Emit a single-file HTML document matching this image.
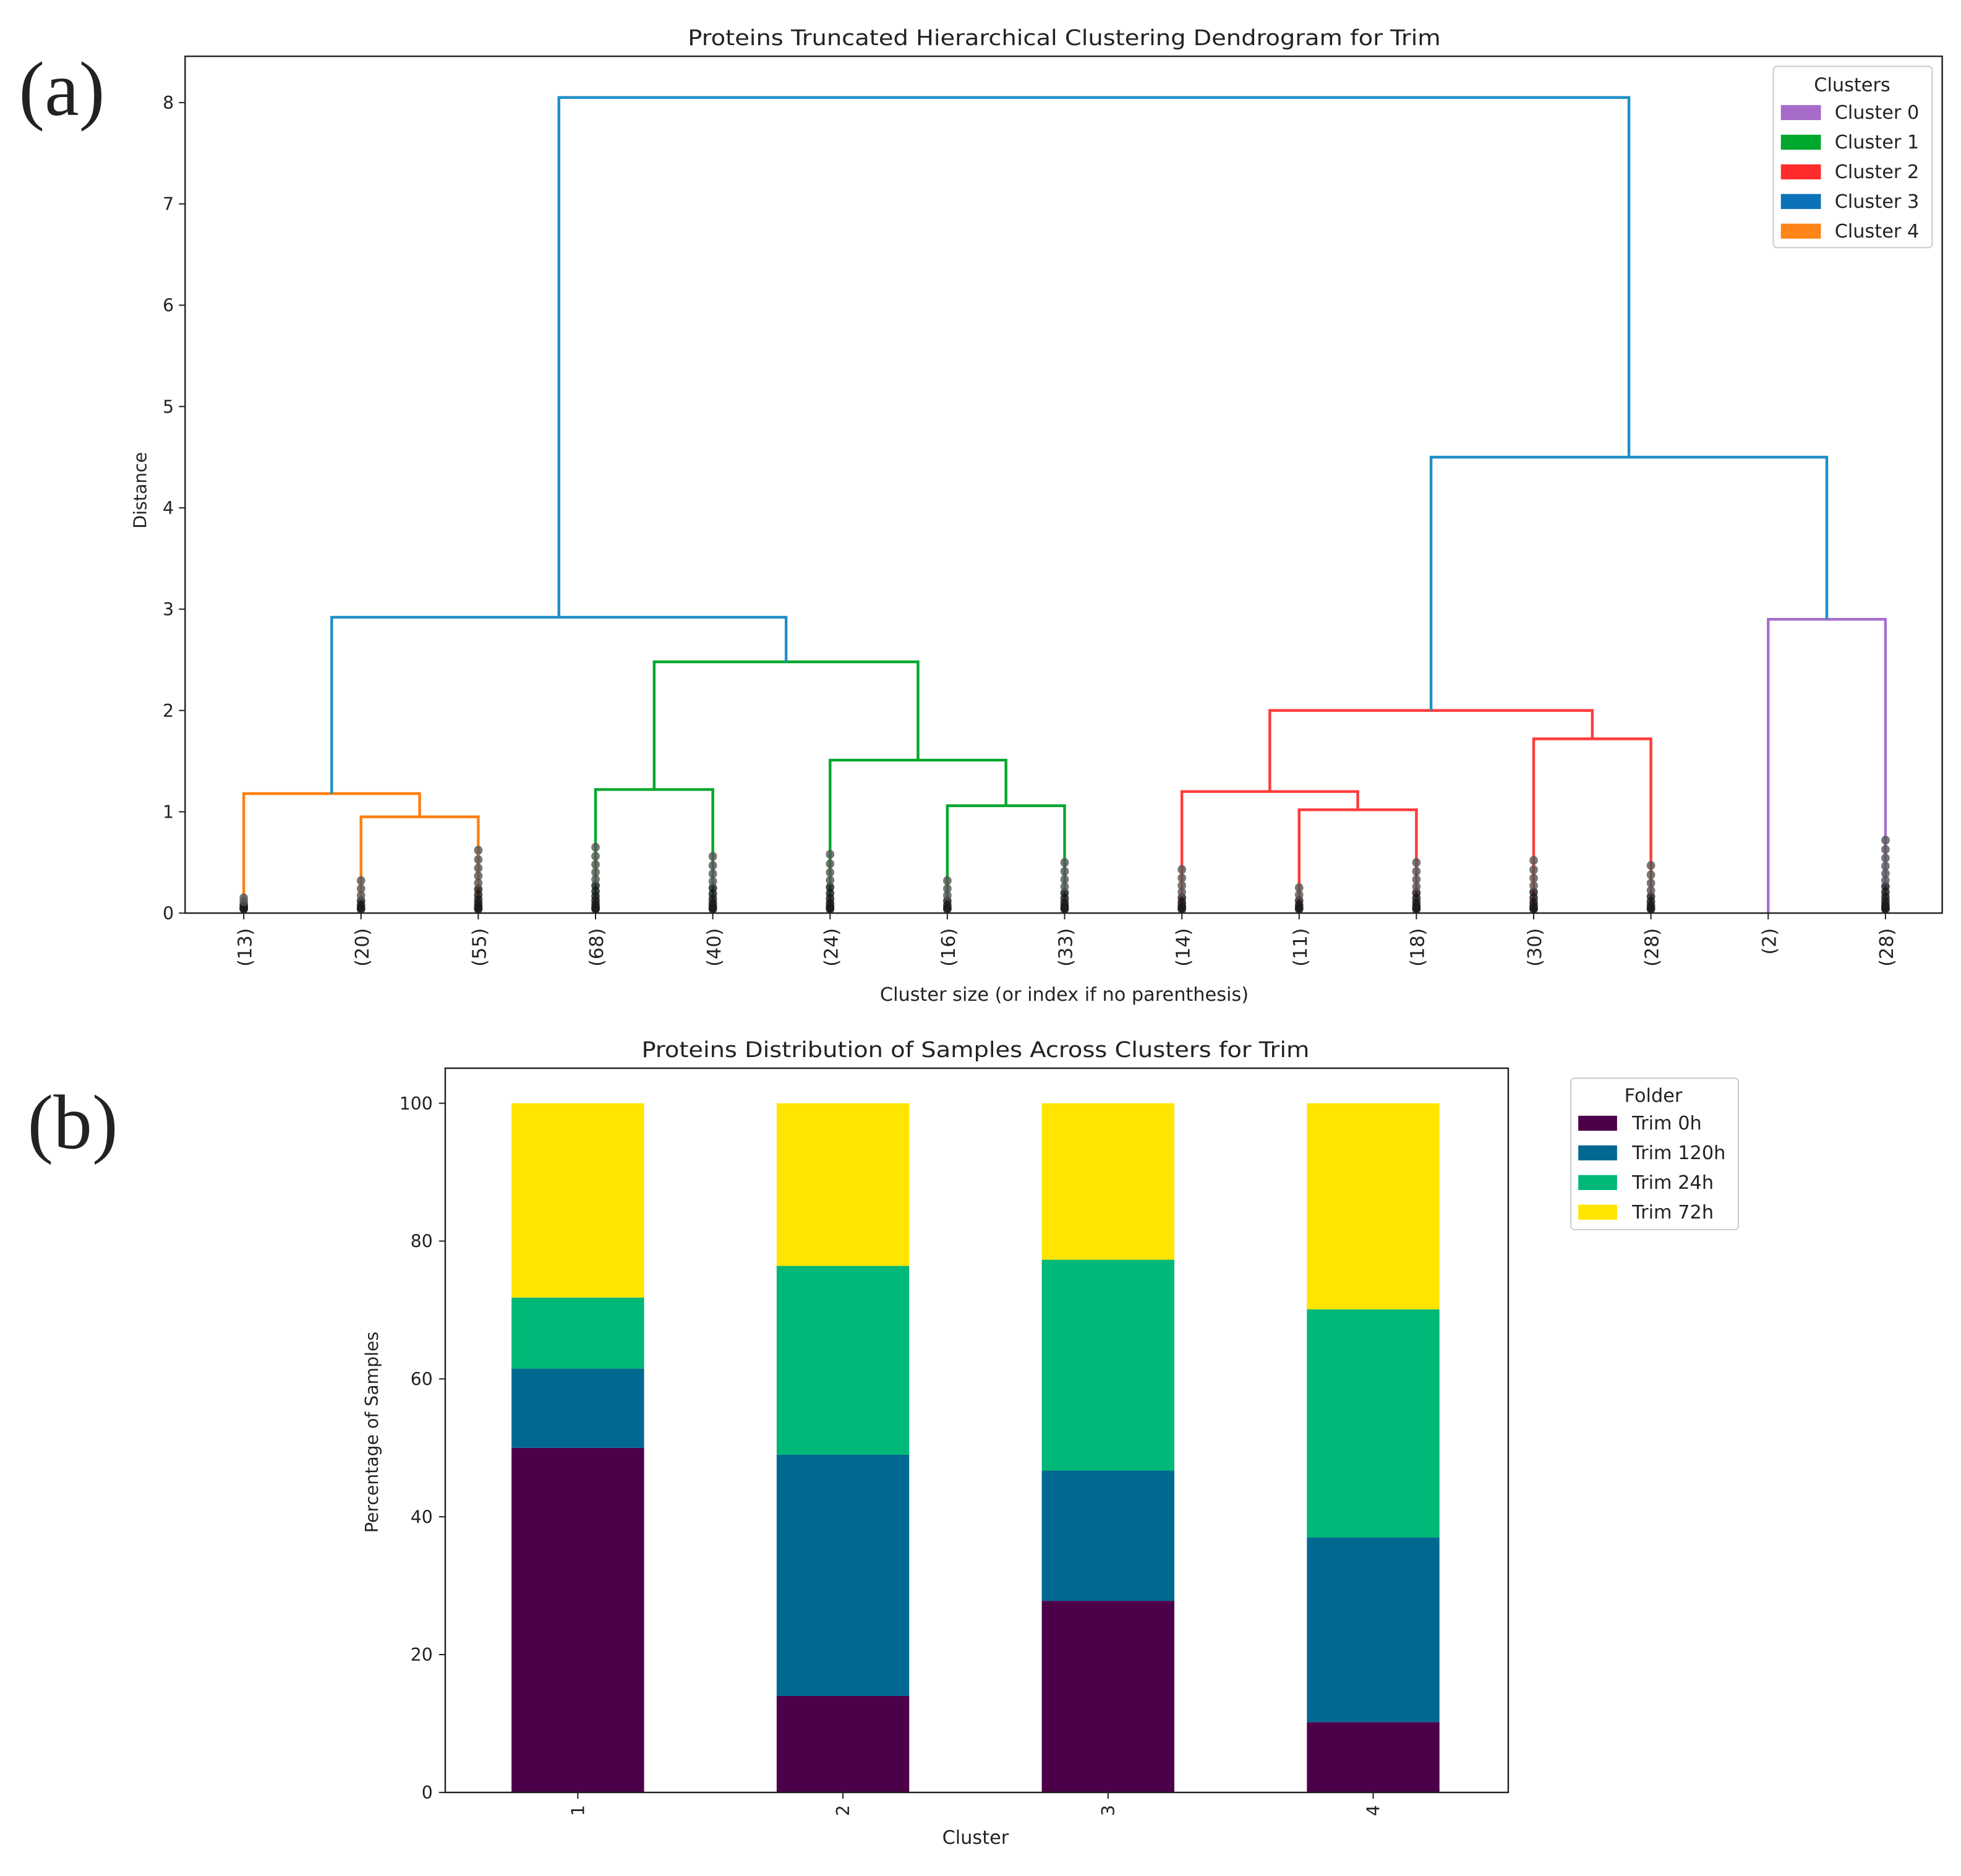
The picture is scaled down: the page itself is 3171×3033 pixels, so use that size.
<!DOCTYPE html>
<html><head><meta charset="utf-8"><style>
html,body{margin:0;padding:0;background:#fff;}
svg{display:block;}
text{font-family:"DejaVu Sans","Liberation Sans",sans-serif;fill:#222;}
</style></head><body>
<svg id="fig" width="3171" height="3033" viewBox="0 0 1568 1499.8" xmlns="http://www.w3.org/2000/svg">
<rect width="1568" height="1500" fill="#fff"/>
<g id="pa"></g>
<g id="pb"></g>
</svg>
<script>
// ---------- Panel (a) data ----------
const leafLabels = ["(13)","(20)","(55)","(68)","(40)","(24)","(16)","(33)","(14)","(11)","(18)","(30)","(28)","(2)","(28)"];
const leafMaxDot = [0.15,0.32,0.62,0.65,0.56,0.58,0.32,0.5,0.43,0.25,0.5,0.52,0.47,0,0.72];
// merges: node ids 0..14 leaves, 15+ merges
const mergeLeft  = [1, 0, 3, 6, 5, 17, 16, 9, 8, 11, 23, 13, 25, 21];
const mergeRight = [2, 15,4, 7, 18,19, 20, 10,22,12, 24, 14, 26, 27];
const mergeH     = [0.95,1.18,1.22,1.06,1.51,2.48,2.92,1.02,1.20,1.72,2.0,2.9,4.5,8.05];
const mergeColor = ["#ff7f0e","#ff7f0e","#00a82d","#00a82d","#00a82d","#00a82d","#1f8fc8","#ff3b3b","#ff3b3b","#ff3b3b","#ff3b3b","#a96fd0","#1f8fc8","#1f8fc8"];
const distTicks = [0,1,2,3,4,5,6,7,8];
const clusterNames = ["Cluster 0","Cluster 1","Cluster 2","Cluster 3","Cluster 4"];
const clusterColors = ["#a66bc8","#00a82d","#ff2b2b","#0a72b8","#ff8518"];

// ---------- Panel (b) data ----------
const barCats = ["1","2","3","4"];
const folderNames = ["Trim 0h","Trim 120h","Trim 24h","Trim 72h"];
const folderColors = ["#4c0049","#006891","#00b877","#ffe500"];
const s0h   = [50,14,27.8,10.2];
const s120h = [11.5,35,18.9,26.8];
const s24h  = [10.3,27.4,30.6,33.1];
const s72h  = [28.2,23.6,22.7,29.9];
const pctTicks = [0,20,40,60,80,100];

const NS="http://www.w3.org/2000/svg";
function mk(tag,attrs,parent){const e=document.createElementNS(NS,tag);for(const k in attrs)e.setAttribute(k,attrs[k]);parent.appendChild(e);return e;}

// ===== Panel a =====
const pa=document.getElementById('pa');
const A={l:148,r:1553,t:45,b:730};
const ax=u=>A.l+(u/150)*(A.r-A.l+1.5);
const ay=v=>A.b-v*81;
let t;
t=mk('text',{x:15,y:92,'font-size':62},pa);t.textContent='(a)';
t.style.fontFamily='"Liberation Serif",serif';

t=mk('text',{x:851,y:36,'font-size':17,'text-anchor':'middle',textLength:602,lengthAdjust:'spacingAndGlyphs'},pa);t.textContent='Proteins Truncated Hierarchical Clustering Dendrogram for Trim';

const nodeX=[],nodeH=[];
leafLabels.forEach((l,i)=>{nodeX[i]=ax(5+10*i);nodeH[i]=0;});
const links=mk('g',{},pa);
for(let m=0;m<mergeH.length;m++){
  const L=mergeLeft[m],R=mergeRight[m],id=15+m;
  const x1=nodeX[L],x2=nodeX[R],h=mergeH[m];
  const p=mk('path',{d:`M${x1},${ay(nodeH[L])}V${ay(h)}H${x2}V${ay(nodeH[R])}`,fill:'none',stroke:mergeColor[m],'stroke-width':2.2},links);
  
  nodeX[id]=(x1+x2)/2;nodeH[id]=h;
}
const dots=mk('g',{},pa);
leafLabels.forEach((l,i)=>{
  const mx=leafMaxDot[i];if(!mx)return;
  const n=Math.max(5,Math.round(mx*18));
  for(let k=0;k<=n;k++){
    const v=0.04+(mx-0.04)*Math.pow(k/n,1.8);
    mk('ellipse',{cx:nodeX[i],cy:ay(v),rx:3.4,ry:3.6,fill:k>n*0.6?'#555':'#1a1a1a','fill-opacity':0.8},dots);
  }
});
const fa=mk('rect',{x:A.l,y:A.t,width:A.r-A.l,height:A.b-A.t,fill:'none',stroke:'#222','stroke-width':1.2},pa);

distTicks.forEach(v=>{
  mk('line',{x1:A.l-5,x2:A.l,y1:ay(v),y2:ay(v),stroke:'#222'},pa);
  const tt=mk('text',{x:A.l-9,y:ay(v)+5,'font-size':14,'text-anchor':'end'},pa);tt.textContent=v;
  
});
leafLabels.forEach((l,i)=>{
  mk('line',{x1:nodeX[i],x2:nodeX[i],y1:A.b,y2:A.b+5,stroke:'#222'},pa);
  const tt=mk('text',{x:0,y:0,'font-size':15,'text-anchor':'end',transform:`translate(${nodeX[i]+6},${A.b+12}) rotate(-90)`},pa);tt.textContent=l;
  
});
t=mk('text',{x:851,y:800,'font-size':15,'text-anchor':'middle'},pa);t.textContent='Cluster size (or index if no parenthesis)';

t=mk('text',{x:0,y:0,'font-size':14,'text-anchor':'middle',transform:'translate(117,392) rotate(-90)'},pa);t.textContent='Distance';

const lga=mk('g',{},pa);
mk('rect',{x:1418,y:53,width:127,height:145,rx:3,fill:'#fff',stroke:'#ccc'},lga);
t=mk('text',{x:1481,y:73,'font-size':15,'text-anchor':'middle'},lga);t.textContent='Clusters';
clusterNames.forEach((n,i)=>{
  const y=90+i*23.7;
  mk('rect',{x:1424,y:y-6,width:32,height:12,fill:clusterColors[i]},lga);
  const tt=mk('text',{x:1467,y:y+5,'font-size':15},lga);tt.textContent=n;
  
});

// ===== Panel b =====
const pb=document.getElementById('pb');
const B={l:356,r:1206,t:854,b:1433};
const by=v=>B.b-v*5.51;
const bx=i=>462+i*212;
t=mk('text',{x:22,y:918,'font-size':62},pb);t.textContent='(b)';
t.style.fontFamily='"Liberation Serif",serif';

t=mk('text',{x:780,y:845,'font-size':17,'text-anchor':'middle',textLength:534,lengthAdjust:'spacingAndGlyphs'},pb);t.textContent='Proteins Distribution of Samples Across Clusters for Trim';

const series=[s0h,s120h,s24h,s72h];
barCats.forEach((c,i)=>{
  let base=0;
  series.forEach((s,k)=>{
    const v=s[i];
    const r=mk('rect',{x:bx(i)-53,y:by(base+v),width:106,height:by(base)-by(base+v),fill:folderColors[k]},pb);
    
    
    base+=v;
  });
});
const fb=mk('rect',{x:B.l,y:B.t,width:B.r-B.l,height:B.b-B.t,fill:'none',stroke:'#222','stroke-width':1.2},pb);

pctTicks.forEach(v=>{
  mk('line',{x1:B.l-5,x2:B.l,y1:by(v),y2:by(v),stroke:'#222'},pb);
  const tt=mk('text',{x:B.l-10,y:by(v)+5,'font-size':14,'text-anchor':'end'},pb);tt.textContent=v;
  
});
barCats.forEach((c,i)=>{
  mk('line',{x1:bx(i),x2:bx(i),y1:B.b,y2:B.b+5,stroke:'#222'},pb);
  const tt=mk('text',{x:0,y:0,'font-size':14,'text-anchor':'end',transform:`translate(${bx(i)+5},${B.b+10}) rotate(-90)`},pb);tt.textContent=c;
  
});
t=mk('text',{x:780,y:1474,'font-size':15,'text-anchor':'middle'},pb);t.textContent='Cluster';

t=mk('text',{x:0,y:0,'font-size':14,'text-anchor':'middle',transform:'translate(302,1145) rotate(-90)'},pb);t.textContent='Percentage of Samples';

const lgb=mk('g',{},pb);
mk('rect',{x:1256,y:862,width:134,height:121,rx:3,fill:'#fff',stroke:'#ccc'},lgb);
t=mk('text',{x:1322,y:881,'font-size':15,'text-anchor':'middle'},lgb);t.textContent='Folder';
folderNames.forEach((n,i)=>{
  const y=898+i*23.7;
  mk('rect',{x:1262,y:y-6,width:31,height:12,fill:folderColors[i]},lgb);
  const tt=mk('text',{x:1305,y:y+5,'font-size':15},lgb);tt.textContent=n;
  
});
</script>
</body></html>
